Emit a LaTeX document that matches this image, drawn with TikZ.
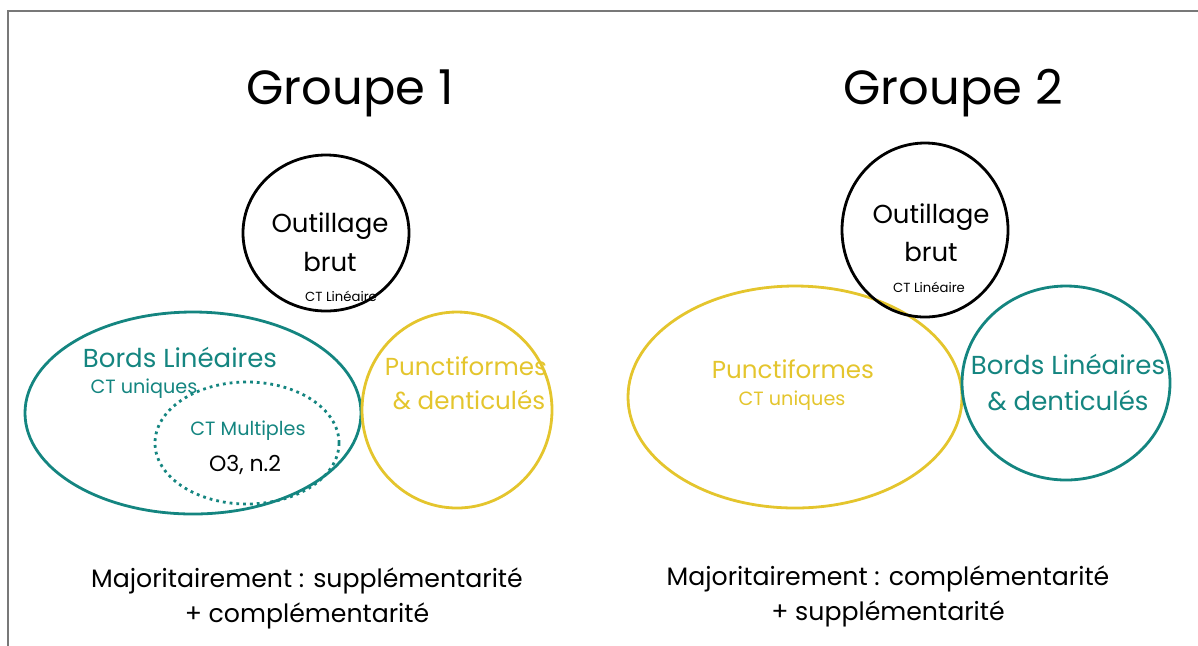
\documentclass[tikz,border=0pt]{standalone}
\usepackage{fontspec}
\setmainfont{Poppins}
\usetikzlibrary{shapes.geometric}
\definecolor{bordteal}{RGB}{20,133,128}
\definecolor{punctyellow}{RGB}{228,197,45}
\definecolor{framegray}{RGB}{120,120,120}

\begin{document}
\begin{tikzpicture}[x=0.5pt, y=-0.5pt,
        zone/.style={ellipse, draw, line width=1.4pt, inner sep=0pt},
        title/.style={font=\fontsize{24}{27}\selectfont},
        big/.style={font=\fontsize{13}{15}\selectfont},
        bigp/.style={font=\fontsize{12.3}{15}\selectfont},
        mid/.style={font=\fontsize{9.6}{11}\selectfont},
        tiny/.style={font=\fontsize{6.6}{7.5}\selectfont},
        summary/.style={font=\fontsize{12.6}{17.5}\selectfont, align=center}
    ]
        \useasboundingbox (0,0) rectangle (1198,645);
        \draw[framegray, line width=0.8pt] (8,700) -- (8,11) -- (1250,11);

        % Groupe 1
        \node[title] (titre1) at (350,93) {Groupe 1};
        \node[zone, bordteal, minimum width=168pt, minimum height=101pt] (bords1) at (193,413) {};
        \node[zone, bordteal, dotted, minimum width=92pt, minimum height=61pt] (multi1) at (247,443) {};
        \node[zone, punctyellow, minimum width=95pt, minimum height=98pt] (punct1) at (457,410) {};
        \node[zone, black, minimum width=83pt, minimum height=78pt] (brut1) at (326,233) {};

        \node[big] (brutA) at (330,226) {Outillage};
        \node[big] (brutB) at (330,262) {brut};
        \node[tiny] (brutC) at (341,296) {CT Linéaire};
        \node[big, text=bordteal] (bordsA) at (180,357) {Bords Linéaires};
        \node[mid, text=bordteal] (bordsB) at (144,389) {CT uniques};
        \node[mid, text=bordteal] (multiA) at (248,431) {CT Multiples};
        \node[font=\fontsize{11}{13}\selectfont] (multiB) at (245,465) {O3, n.2};
        \node[bigp, text=punctyellow] (punctA) at (466,366) {Punctiformes};
        \node[bigp, text=punctyellow] (punctB) at (469,400) {\& denticulés};

        \node[summary] (bilan1) at (307,598) {Majoritairement : supplémentarité\\+ complémentarité};

        % Groupe 2
        \node[title] (titre2) at (953,93) {Groupe 2};
        \node[zone, punctyellow, minimum width=167pt, minimum height=111pt] (punct2) at (795,397) {};
        \node[zone, bordteal, minimum width=104pt, minimum height=97pt] (bords2) at (1066,383) {};
        \node[zone, black, minimum width=83pt, minimum height=87pt] (brut2) at (925,230) {};

        \node[big] (brut2A) at (931,217) {Outillage};
        \node[big] (brut2B) at (931,252) {brut};
        \node[tiny] (brut2C) at (929,287) {CT Linéaire};
        \node[bigp, text=punctyellow] (punct2A) at (793,369) {Punctiformes};
        \node[mid, text=punctyellow] (punct2B) at (792,401) {CT uniques};
        \node[big, text=bordteal] (bords2A) at (1068,364) {Bords Linéaires};
        \node[big, text=bordteal] (bords2B) at (1068,400) {\& denticulés};

        \node[summary] (bilan2) at (888,596) {Majoritairement : complémentarité\\+ supplémentarité};
    \end{tikzpicture}
\end{document}
